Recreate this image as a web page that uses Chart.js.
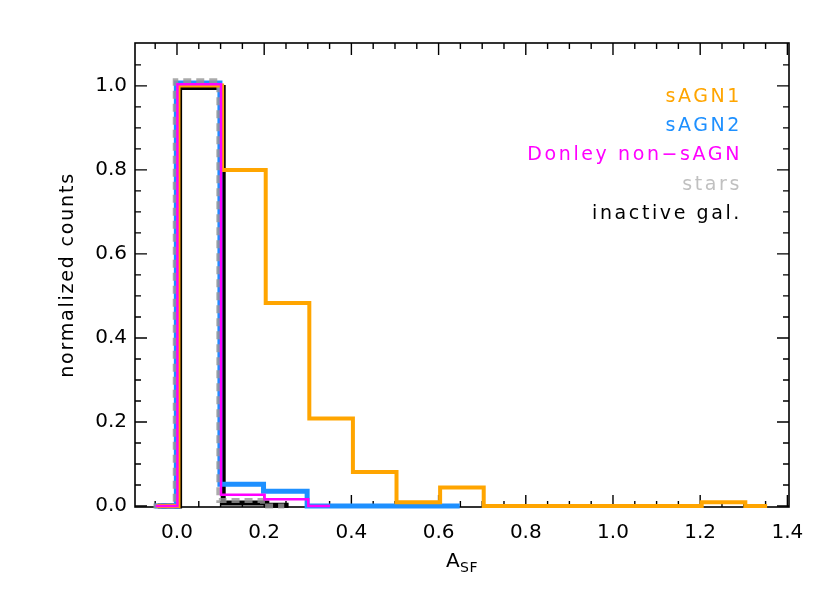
<!DOCTYPE html>
<html>
<head>
<meta charset="utf-8">
<script src="https://cdn.jsdelivr.net/npm/chart.js@4.4.1/dist/chart.umd.min.js"></script>
<style>
  html, body { margin: 0; padding: 0; background: #fff; }
  #wrap { width: 830px; height: 593px; }
</style>
</head>
<body>
<div id="wrap"><canvas id="asf-hist"></canvas></div>
<script>
// bin centres (histogram drawn in step mode, edges halfway between centres)
var sagn1X = [-0.05, 0.05, 0.15, 0.25, 0.35, 0.45, 0.55, 0.65, 0.75, 0.85, 0.95, 1.05, 1.15, 1.25, 1.35];
var sagn1Y = [0, 1.001, 0.8, 0.483, 0.208, 0.081, 0.009, 0.044, 0, 0, 0, 0, 0, 0.009, 0];

var sagn2X = [-0.05, 0.05, 0.15, 0.25, 0.35, 0.45, 0.55, 0.65];
var sagn2Y = [0, 1.007, 0.052, 0.035, 0, 0, 0, 0];

var donleyX = [-0.05, 0.05, 0.15, 0.25, 0.35];
var donleyY = [0, 1.004, 0.027, 0.016, 0];

var starsX = [-0.05, 0.05, 0.15, 0.25];
var starsY = [0, 1.012, 0.013, 0];

var inactiveX = [-0.05, 0.05, 0.15, 0.25];
var inactiveY = [0, 0.996, 0.007, 0.002];

var xTickVals = [0, 0.2, 0.4, 0.6, 0.8, 1.0, 1.2, 1.4];
var yTickVals = [0, 0.2, 0.4, 0.6, 0.8, 1.0];

// small horizontal nudges so the overlapping outlines stay visible
var nudge = { sagn1: 0.0035, sagn2: -0.0015, donley: 0.001, stars: -0.004, inactive: 0.006 };

function pts(xs, ys, dx) {
  return xs.map(function (x, i) { return { x: x + dx, y: ys[i] }; });
}

function histSet(label, xs, ys, dx, color, width, order, dash) {
  return {
    label: label,
    data: pts(xs, ys, dx),
    borderColor: color,
    backgroundColor: color,
    borderWidth: width,
    borderDash: dash || [],
    stepped: "middle",
    pointRadius: 0,
    fill: false,
    clip: false,
    order: order
  };
}

// frame with IDL style inward ticks on all four sides
var frameTicks = {
  id: "frameTicks",
  beforeDatasetsDraw: function (chart) {
    var ctx = chart.ctx, a = chart.chartArea;
    var sx = chart.scales.x, sy = chart.scales.y;
    ctx.save();
    ctx.strokeStyle = "#000";
    ctx.lineWidth = 1.6;
    ctx.strokeRect(a.left, a.top, a.right - a.left, a.bottom - a.top);
    ctx.lineWidth = 1.4;
    ctx.beginPath();
    for (var i = -2; i <= 30; i++) {
      var px = sx.getPixelForValue(i * 0.05);
      if (px <= a.left + 1 || px >= a.right - 1) continue;
      var len = i % 4 === 0 ? 12 : 6;
      ctx.moveTo(px, a.bottom); ctx.lineTo(px, a.bottom - len);
      ctx.moveTo(px, a.top); ctx.lineTo(px, a.top + len);
    }
    for (var j = 0; j <= 24; j++) {
      var py = sy.getPixelForValue(j * 0.05);
      if (py >= a.bottom - 1 || py <= a.top + 1) continue;
      var ylen = j % 4 === 0 ? 12 : 6;
      ctx.moveTo(a.left, py); ctx.lineTo(a.left + ylen, py);
      ctx.moveTo(a.right, py); ctx.lineTo(a.right - ylen, py);
    }
    ctx.stroke();
    ctx.restore();
  },
  afterDraw: function (chart) {
    var ctx = chart.ctx;
    ctx.save();
    // legend, right aligned text in series colours
    ctx.font = "19px 'DejaVu Sans'";
    ctx.letterSpacing = "2.6px";
    ctx.textAlign = "right";
    ctx.textBaseline = "alphabetic";
    chart.data.datasets.forEach(function (ds, n) {
      ctx.fillStyle = ds.legendColor || ds.borderColor;
      ctx.fillText(ds.label, 742, 102 + n * 29.2);
    });
    // axis titles
    ctx.fillStyle = "#000";
    ctx.letterSpacing = "1.8px";
    ctx.textAlign = "center";
    ctx.save();
    ctx.translate(73, 275);
    ctx.rotate(-Math.PI / 2);
    ctx.fillText("normalized counts", 0, 0);
    ctx.restore();
    ctx.letterSpacing = "0px";
    ctx.textAlign = "left";
    ctx.font = "20px 'DejaVu Sans'";
    ctx.fillText("A", 446, 567);
    ctx.font = "14px 'DejaVu Sans'";
    ctx.letterSpacing = "0.5px";
    ctx.fillText("SF", 460, 572);
    ctx.restore();
  }
};

// order: lower number is drawn on top
var datasets = [
  histSet("sAGN1", sagn1X, sagn1Y, nudge.sagn1, "#FFA500", 4, 2),
  histSet("sAGN2", sagn2X, sagn2Y, nudge.sagn2, "#1E90FF", 5, 4),
  histSet("Donley non\u2212sAGN", donleyX, donleyY, nudge.donley, "#FF00FF", 2.5, 1),
  histSet("stars", starsX, starsY, nudge.stars, "rgba(150,150,150,0.8)", 5, 3, [8, 5]),
  histSet("inactive gal.", inactiveX, inactiveY, nudge.inactive, "#000000", 5, 5)
];
datasets[3].legendColor = "#C0C0C0";

new Chart(document.getElementById("asf-hist"), {
  type: "line",
  data: { datasets: datasets },
  options: {
    responsive: true,
    maintainAspectRatio: false,
    devicePixelRatio: 1,
    animation: false,
    layout: { padding: { top: 43, right: 41, left: 0, bottom: 0 } },
    plugins: {
      legend: { display: false },
      tooltip: { enabled: false }
    },
    scales: {
      x: {
        type: "linear",
        min: -0.0963,
        max: 1.4037,
        grid: { display: false, drawTicks: false },
        border: { display: false },
        afterBuildTicks: function (s) {
          s.ticks = xTickVals.map(function (v) { return { value: v }; });
        },
        afterFit: function (s) { s.height = 86; },
        ticks: {
          padding: 14,
          maxRotation: 0,
          color: "#000",
          font: { family: "DejaVu Sans", size: 20 },
          callback: function (v) { return Number(v).toFixed(1); }
        }
      },
      y: {
        type: "linear",
        min: -0.0024,
        max: 1.102,
        grid: { display: false, drawTicks: false },
        border: { display: false },
        afterBuildTicks: function (s) {
          s.ticks = yTickVals.map(function (v) { return { value: v }; });
        },
        afterFit: function (s) { s.width = 135; },
        ticks: {
          padding: 8,
          color: "#000",
          font: { family: "DejaVu Sans", size: 20 },
          callback: function (v) { return Number(v).toFixed(1); }
        }
      }
    }
  },
  plugins: [frameTicks]
});
</script>
</body>
</html>
